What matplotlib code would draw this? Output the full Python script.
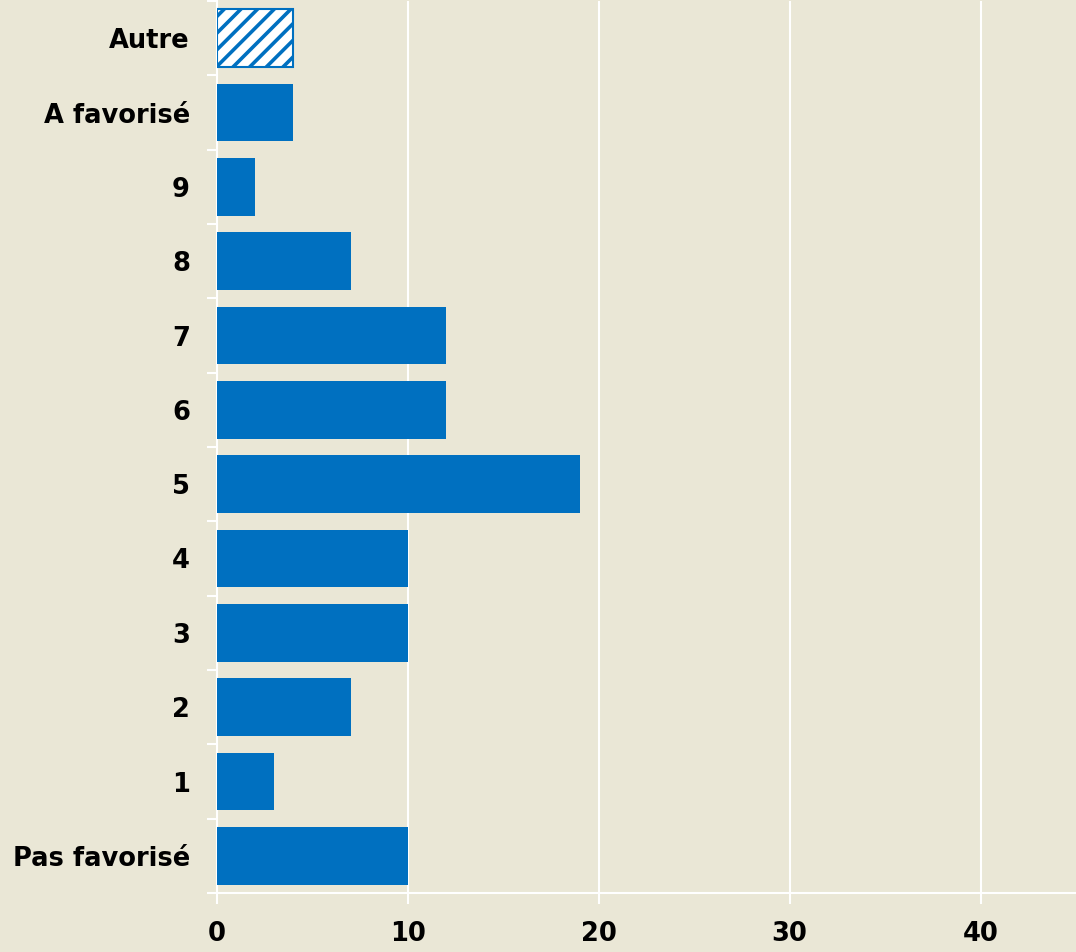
import matplotlib
matplotlib.use("Agg")
import matplotlib.pyplot as plt
import numpy as np

categories = ["Pas favorisé", "1", "2", "3", "4", "5", "6", "7", "8", "9", "A favorisé", "Autre"]
values = [10, 3, 7, 10, 10, 19, 12, 12, 7, 2, 4, 4]
xticks = [0, 10, 20, 30, 40]

bg = "#EAE7D6"
blue = "#0070C0"

plt.rcParams["hatch.linewidth"] = 2.6

fig = plt.figure(figsize=(10.76, 9.52), dpi=100, facecolor=bg)
ax = fig.add_axes([217/1076, 59/952, 1 - 217/1076, 892/952])
ax.set_facecolor(bg)

y = np.arange(len(categories))
for i, (c, v) in enumerate(zip(categories, values)):
    if c == "Autre":
        ax.barh(i, v, height=0.78, color="white", edgecolor=blue, hatch="//", linewidth=1.5, zorder=3)
    else:
        ax.barh(i, v, height=0.78, color=blue, zorder=3)

ax.set_xlim(0, 45)
ax.set_ylim(-0.5, len(categories) - 0.5)
ax.set_xticks(xticks)
ax.set_xticklabels([str(t) for t in xticks], fontsize=18.5, fontweight="bold")
ax.set_yticks(y)
ax.set_yticklabels(categories, fontsize=18.5, fontweight="bold")
ax.set_yticks(np.arange(-0.5, len(categories), 1), minor=True)
ax.tick_params(axis="y", which="major", length=0, pad=19.5)
ax.tick_params(axis="y", which="minor", length=7, color="white", width=1.5)
ax.tick_params(axis="x", which="major", length=8, color="white", width=1.5, pad=12)

ax.grid(axis="x", color="white", linewidth=1.5, zorder=0)
ax.set_axisbelow(True)
for s in ["top", "right"]:
    ax.spines[s].set_visible(False)
for s in ["left", "bottom"]:
    ax.spines[s].set_color("white")
    ax.spines[s].set_linewidth(1.5)

fig.savefig("out.png", dpi=100, facecolor=bg)
